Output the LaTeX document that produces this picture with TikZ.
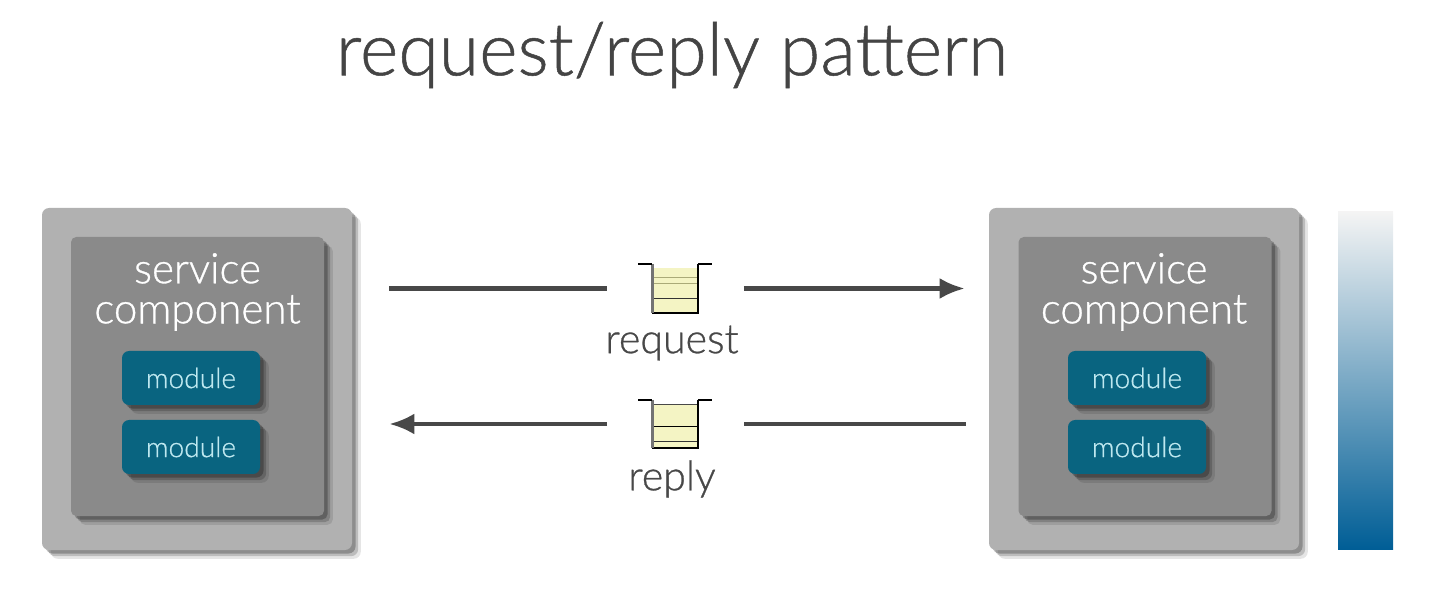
\documentclass[tikz,border=0pt]{standalone}
\usepackage{xcolor}
\usepackage{fontspec}
\setmainfont[RawFeature={embolden=0.7}]{Lato Light}
\usetikzlibrary{arrows.meta, calc, shadows}
\definecolor{qtitle}{RGB}{68, 68, 68}
\definecolor{qouter}{RGB}{177, 177, 177}
\definecolor{qinner}{RGB}{138, 138, 138}
\definecolor{qmodule}{RGB}{9, 100, 128}
\definecolor{qmodtext}{RGB}{190, 232, 240}
\definecolor{qline}{RGB}{72, 72, 72}
\definecolor{qyellow}{RGB}{244, 244, 196}
\definecolor{qolive}{RGB}{170, 170, 120}
\definecolor{qbartop}{RGB}{244, 244, 244}
\definecolor{qbarmid}{RGB}{122, 174, 204}
\definecolor{qbarend}{RGB}{0, 94, 150}
\begin{document}
\begin{tikzpicture}[
    softshadow/.style={general shadow={shadow xshift=5pt, shadow yshift=-5pt, fill=black, opacity=.1, rounded corners=4pt},
        general shadow={shadow xshift=3.5pt, shadow yshift=-3.5pt, fill=black, opacity=.18, rounded corners=4pt},
        general shadow={shadow xshift=2pt, shadow yshift=-2pt, fill=black, opacity=.25, rounded corners=4pt}},
    outerbox/.style={softshadow, fill=qouter, rounded corners=4pt, minimum width=6.2cm, minimum height=6.84cm},
    innerbox/.style={softshadow, fill=qinner, rounded corners=3pt, minimum width=5.06cm, minimum height=5.58cm},
    modulebox/.style={softshadow, fill=qmodule, rounded corners=4pt, minimum width=2.76cm, minimum height=1.08cm, text=qmodtext, font=\fontsize{16}{18}\selectfont},
    servicelabel/.style={text=white, align=center, font=\fontsize{24}{22.8}\selectfont},
    queuebox/.style={minimum width=.9cm, inner sep=0pt},
    queuelabel/.style={text=qline, font=\fontsize{23.4}{25}\selectfont},
    flowline/.style={draw=qline, line width=2.4pt},
    flowarrow/.style={flowline, -{Latex[length=.5cm, width=.42cm]}},
]
    \useasboundingbox (0,0) rectangle (28.86,12.12);

    \node[text=qtitle, font=\fontsize{41.8}{48}\selectfont] (title) at (13.44,11.02) {request/reply pattern};

    % Left component
    \node[outerbox] (leftbox) at (3.94,4.54) {};
    \node[innerbox] (leftinner) at (3.95,4.59) {};
    \node[servicelabel] (leftlabel) at (3.95,6.28) {service\\component};
    \node[modulebox] (leftmoda) at (3.82,4.56) {module};
    \node[modulebox] (leftmodb) at (3.82,3.18) {module};

    % Right component
    \node[outerbox] (rightbox) at (22.88,4.54) {};
    \node[innerbox] (rightinner) at (22.9,4.59) {};
    \node[servicelabel] (rightlabel) at (22.88,6.28) {service\\component};
    \node[modulebox] (rightmoda) at (22.74,4.56) {module};
    \node[modulebox] (rightmodb) at (22.74,3.18) {module};

    % Queues
    \node[queuebox, minimum height=.98cm] (reqqueue) at (13.5,6.35) {};
    \node[queuebox, minimum height=.96cm] (repqueue) at (13.5,3.64) {};
    \node[queuelabel] (reqlabel) at (13.44,5.26) {request};
    \node[queuelabel] (replabel) at (13.44,2.54) {reply};

    \fill[qyellow] ($(reqqueue.south west)$) rectangle ($(reqqueue.north east)+(0,-.08)$);
    \fill[qyellow] ($(repqueue.south west)$) rectangle ($(repqueue.north east)+(0,-.1)$);
    \foreach \y/\c in {.28/qolive, .4/qolive, .7/black!80} {
        \draw[\c, line width=.8pt] ($(reqqueue.north west)+(0,-\y)$) -- ($(reqqueue.north east)+(0,-\y)$);
    }
    \foreach \y/\c in {.1/qline, .54/black, .84/black!80} {
        \draw[\c, line width=.9pt] ($(repqueue.north west)+(0,-\y)$) -- ($(repqueue.north east)+(0,-\y)$);
    }
    \foreach \q in {reqqueue, repqueue} {
        \draw[black, line width=1pt] (\q.north east) -- (\q.south east) -- (\q.south west);
        \draw[black!55, line width=1.6pt] (\q.north west) -- (\q.south west);
        \draw[black, line width=1pt] (\q.north west) -- ++(-.28,0);
        \draw[black, line width=1pt] (\q.north east) -- ++(.28,0);
    }

    % Request and reply flows
    \draw[flowline, shorten <=.74cm, shorten >=.9cm] (leftbox.east |- reqqueue.west) -- (reqqueue.west);
    \draw[flowarrow, shorten <=.92cm, shorten >=.48cm] (reqqueue.east) -- (rightbox.west |- reqqueue.east);
    \draw[flowline, shorten <=.46cm, shorten >=.92cm] (rightbox.west |- repqueue.east) -- (repqueue.east);
    \draw[flowarrow, shorten <=.9cm, shorten >=.74cm] (repqueue.west) -- (leftbox.east |- repqueue.west);

    % Scale bar
    \node[minimum width=1.1cm, minimum height=6.74cm, inner sep=0pt, top color=qbartop, middle color=qbarmid, bottom color=qbarend] (scalebar) at (27.31,4.51) {};
\end{tikzpicture}
\end{document}
